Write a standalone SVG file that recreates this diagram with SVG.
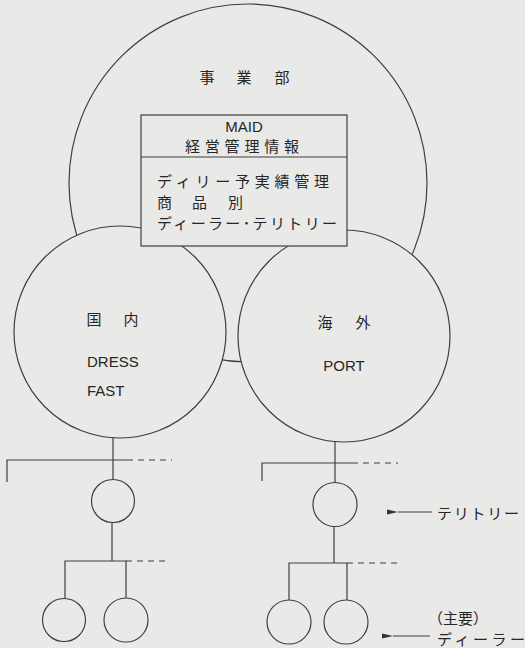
<svg xmlns="http://www.w3.org/2000/svg" width="525" height="648" viewBox="0 0 525 648">
<style>
.s{fill:#e9e9e7;stroke:#3f3f3f;stroke-width:1.2}
.l{fill:none;stroke:#3f3f3f;stroke-width:1.2}
.d{fill:none;stroke:#3f3f3f;stroke-width:1.2;stroke-dasharray:6,5}
.j{font-family:"Noto Sans CJK JP","Noto Sans CJK SC",sans-serif;fill:#262626;font-size:15px}
.e{font-family:"Liberation Sans",Arial,sans-serif;fill:#262626;font-size:15px}
</style>
<defs>
<marker id="ah" markerWidth="11" markerHeight="7" refX="0" refY="3.5" orient="auto" markerUnits="userSpaceOnUse">
<path d="M0,3.5 L11,1 L11,6 Z" fill="#333"/>
</marker>
</defs>
<rect width="525" height="648" fill="#e9e9e7"/>
<g id="jigyobu">
<circle class="s" cx="248" cy="183" r="179"/>
<text class="j" font-size="17" x="207" y="83" text-anchor="middle">事</text>
<text class="j" font-size="17" x="244" y="83" text-anchor="middle">業</text>
<text class="j" font-size="17" x="282" y="83" text-anchor="middle">部</text>
</g>
<g id="kokunai">
<circle class="s" cx="120" cy="332" r="106"/>
<text class="j" font-size="16" x="94" y="325" text-anchor="middle">国</text>
<text class="j" font-size="16" x="131" y="325" text-anchor="middle">内</text>
<text class="e" x="87" y="367">DRESS</text>
<text class="e" x="87" y="396">FAST</text>
</g>
<g id="kaigai">
<circle class="s" cx="344" cy="336" r="106"/>
<text class="j" font-size="16" x="325" y="328" text-anchor="middle">海</text>
<text class="j" font-size="16" x="363" y="328" text-anchor="middle">外</text>
<text class="e" x="344" y="371" text-anchor="middle">PORT</text>
</g>
<g id="maid">
<rect class="s" x="141" y="115" width="206" height="131"/>
<line class="l" x1="141" y1="157" x2="347" y2="157"/>
<text class="e" x="244" y="132" text-anchor="middle">MAID</text>
<text class="j" x="185" y="152" textLength="114" lengthAdjust="spacing">経営管理情報</text>
<text class="j" x="157" y="187" textLength="172" lengthAdjust="spacing">ディリー予実績管理</text>
<text class="j" x="157" y="208">商</text>
<text class="j" x="192" y="208">品</text>
<text class="j" x="228" y="208">別</text>
<text class="j" x="157" y="229" textLength="180" lengthAdjust="spacing">ディーラー･テリトリー</text>
</g>
<g id="t-left">
<circle class="s" cx="113" cy="501" r="21.5"/>
</g>
<g id="d-left-1"><circle class="s" cx="64" cy="620" r="21.5"/></g>
<g id="d-left-2"><circle class="s" cx="126" cy="620" r="22"/></g>
<g id="t-right">
<circle class="s" cx="335" cy="504.5" r="22"/>
</g>
<g id="d-right-1"><circle class="s" cx="289" cy="622" r="22"/></g>
<g id="d-right-2"><circle class="s" cx="346" cy="622" r="22"/></g>
<g id="connectors">
<path class="l" d="M113,437.5 V479.5 M7,482 V460 H127 M112,522.5 V561 M65,598 V561 H126 V598"/>
<path class="d" d="M127,460 H172 M126,561 H167"/>
<path class="l" d="M335,441.5 V482.5 M262,481 V463 H352 M334,526.5 V563 M289,600 V563 H347 V600"/>
<path class="d" d="M352,463 H398 M347,563 H398"/>
<line class="l" x1="432" y1="512" x2="398" y2="512" marker-end="url(#ah)"/>
<line class="l" x1="430" y1="636" x2="393" y2="636" marker-end="url(#ah)"/>
</g>
<g id="labels">
<text class="j" font-size="16" x="437" y="519" textLength="82" lengthAdjust="spacing">テリトリー</text>
<text class="j" x="428" y="624">（主要）</text>
<text class="j" font-size="16" x="437" y="645" textLength="88" lengthAdjust="spacing">ディーラー</text>
</g>
</svg>
